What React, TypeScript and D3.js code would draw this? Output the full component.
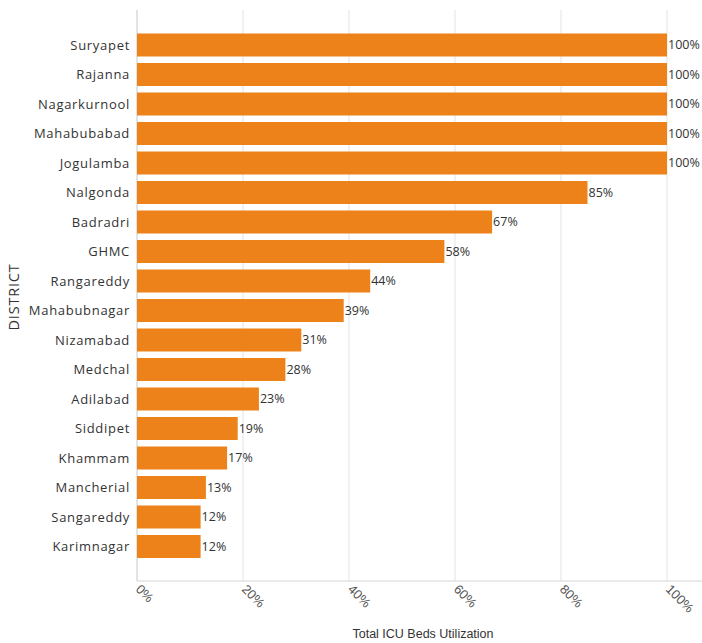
import React from "react";
import * as d3 from "d3";

const districts = [
  "Suryapet", "Rajanna", "Nagarkurnool", "Mahabubabad", "Jogulamba", "Nalgonda",
  "Badradri", "GHMC", "Rangareddy", "Mahabubnagar", "Nizamabad", "Medchal",
  "Adilabad", "Siddipet", "Khammam", "Mancherial", "Sangareddy", "Karimnagar",
];
const utilization = [100, 100, 100, 100, 100, 85, 67, 58, 44, 39, 31, 28, 23, 19, 17, 13, 12, 12];
const xTicks = [0, 20, 40, 60, 80, 100];

const W = 702, H = 643;
const plotLeft = 137, plotRight = 667, plotTop = 10, plotBottom = 581;
const FONT = "'Open Sans', sans-serif";
const FONT2 = "'Liberation Sans', Arial, sans-serif";

export default function App() {
  const x = d3.scaleLinear().domain([0, 100]).range([plotLeft, plotRight]);
  const y = d3.scaleBand<string>().domain(districts).range([30.25, 561.25]).paddingInner(0.22).paddingOuter(0.11);
  const fmt = (v: number) => `${v}%`;
  return (
    <svg width={W} height={H} style={{ position: "absolute", left: 0, top: 0, background: "#fff" }}>
      {xTicks.map((t) => (
        <line key={"g" + t} x1={x(t)} x2={x(t)} y1={plotTop} y2={plotBottom} stroke="#e3e3e3" strokeWidth={1} />
      ))}
      <line x1={plotLeft} x2={plotLeft} y1={plotTop} y2={plotBottom} stroke="#d6d6d6" />
      <line x1={plotLeft} x2={W} y1={plotBottom} y2={plotBottom} stroke="#d6d6d6" />
      {districts.map((d, i) => (
        <g key={d}>
          <rect x={x(0)} y={y(d)!} width={x(utilization[i]) - x(0)} height={y.bandwidth()} fill="#EC8219" />
          <text x={130} y={y(d)! + y.bandwidth() / 2} dy="0.35em" textAnchor="end" fontFamily={FONT} fontSize={13} letterSpacing={0.7} fill="#333">
            {d}
          </text>
          <text x={x(utilization[i]) + 1} y={y(d)! + y.bandwidth() / 2} dy="0.35em" fontFamily={FONT} fontSize={12.5} fill="#333">
            {fmt(utilization[i])}
          </text>
        </g>
      ))}
      {xTicks.map((t) => (
        <text key={"t" + t} transform={`translate(${x(t) - 2},${plotBottom + 9}) rotate(45)`} fontFamily={FONT2} fontSize={13} fill="#555">
          {fmt(t)}
        </text>
      ))}
      <text x={423} y={638} textAnchor="middle" fontFamily={FONT2} fontSize={12.5} fill="#333">
        Total ICU Beds Utilization
      </text>
      <text transform={`translate(19,297) rotate(-90)`} textAnchor="middle" fontFamily={FONT} fontSize={14.5} letterSpacing={0.8} fill="#333">
        DISTRICT
      </text>
    </svg>
  );
}
